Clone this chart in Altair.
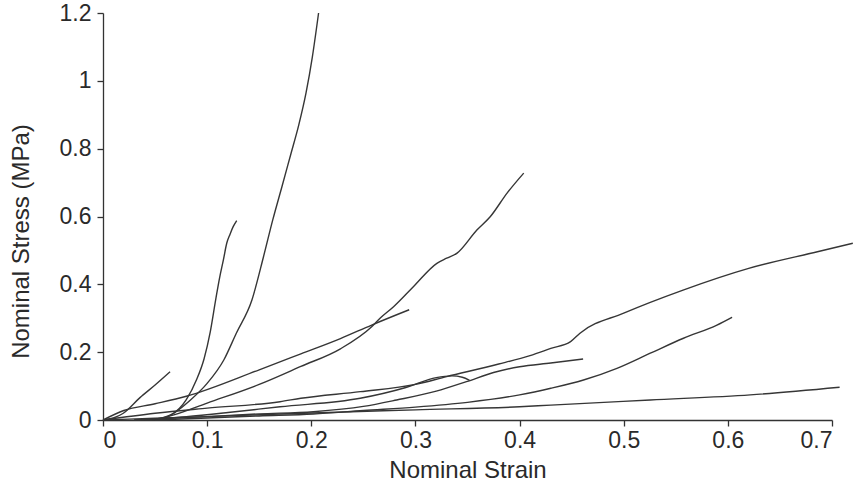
import altair as alt
import pandas as pd

# Curve data (nominal strain, nominal stress MPa)
A_x = [0.055, 0.068, 0.084, 0.100, 0.116, 0.128, 0.143, 0.154, 0.163, 0.172, 0.180, 0.188, 0.195, 0.201, 0.207]
A_y = [0.0, 0.02, 0.059, 0.108, 0.177, 0.256, 0.354, 0.48, 0.59, 0.69, 0.78, 0.87, 0.965, 1.07, 1.20]

B_x = [0.045, 0.065, 0.080, 0.090, 0.097, 0.103, 0.1085, 0.112, 0.1156, 0.1188, 0.122, 0.125, 0.1284]
B_y = [0.0, 0.015, 0.060, 0.120, 0.180, 0.260, 0.360, 0.420, 0.472, 0.521, 0.548, 0.570, 0.588]

C_x = [0.0, 0.010, 0.0195, 0.0355, 0.050, 0.0644]
C_y = [0.0, 0.006, 0.020, 0.066, 0.103, 0.142]

D_x = [0.0, 0.020, 0.050, 0.080, 0.150, 0.190, 0.228, 0.258, 0.294]
D_y = [0.0, 0.028, 0.048, 0.070, 0.148, 0.195, 0.240, 0.280, 0.325]

E_x = [0.050, 0.068, 0.100, 0.150, 0.190, 0.228, 0.258, 0.266, 0.279, 0.298, 0.3206, 0.330, 0.340, 0.359, 0.372, 0.388, 0.404]
E_y = [0.0, 0.015, 0.050, 0.105, 0.158, 0.210, 0.275, 0.300, 0.334, 0.393, 0.462, 0.477, 0.492, 0.560, 0.600, 0.669, 0.728]

F_x = [0.030, 0.100, 0.150, 0.202, 0.250, 0.282, 0.320, 0.349, 0.375, 0.400, 0.430, 0.461]
F_y = [0.0, 0.010, 0.018, 0.0245, 0.040, 0.059, 0.085, 0.113, 0.140, 0.157, 0.168, 0.180]

G_x = [0.0, 0.050, 0.100, 0.170, 0.190, 0.247, 0.300, 0.330, 0.380, 0.410, 0.430, 0.449, 0.458, 0.500, 0.557, 0.620, 0.686, 0.720]
G_y = [0.0, 0.020, 0.035, 0.054, 0.064, 0.0835, 0.105, 0.128, 0.165, 0.190, 0.211, 0.231, 0.256, 0.315, 0.383, 0.447, 0.496, 0.521]

H_x = [0.050, 0.100, 0.150, 0.202, 0.250, 0.300, 0.350, 0.400, 0.430, 0.4614, 0.4935, 0.5255, 0.5574, 0.5895, 0.604]
H_y = [0.0, 0.006, 0.012, 0.0177, 0.028, 0.038, 0.052, 0.074, 0.0935, 0.118, 0.1525, 0.197, 0.241, 0.280, 0.303]

I_x = [0.0, 0.050, 0.100, 0.170, 0.300, 0.400, 0.430, 0.5255, 0.6215, 0.7073]
I_y = [0.0, 0.005, 0.010, 0.0177, 0.030, 0.039, 0.044, 0.059, 0.074, 0.0965]

J_x = [0.030, 0.080, 0.120, 0.170, 0.247, 0.290, 0.320, 0.335, 0.345, 0.352]
J_y = [0.0, 0.010, 0.022, 0.039, 0.064, 0.095, 0.125, 0.130, 0.126, 0.117]

curves = {
    "A": (A_x, A_y), "B": (B_x, B_y), "C": (C_x, C_y), "D": (D_x, D_y),
    "E": (E_x, E_y), "F": (F_x, F_y), "G": (G_x, G_y), "H": (H_x, H_y),
    "I": (I_x, I_y), "J": (J_x, J_y),
}

x_ticks = [0, 0.1, 0.2, 0.3, 0.4, 0.5, 0.6, 0.7]
y_ticks = [0, 0.2, 0.4, 0.6, 0.8, 1.0, 1.2]

rows = []
for name, (xs, ys) in curves.items():
    for i, (xv, yv) in enumerate(zip(xs, ys)):
        rows.append({"curve": name, "idx": i, "strain": xv, "stress": yv})
df = pd.DataFrame(rows)

FONT = "Liberation Sans"
TXT = "#2a2a2a"

chart = alt.Chart(df).mark_line(color="#363636", strokeWidth=1.4, clip=False,
                                interpolate="monotone").encode(
    x=alt.X("strain:Q",
            scale=alt.Scale(domain=[0, 0.7], nice=False, zero=False),
            axis=alt.Axis(values=x_ticks, format="~g", title="Nominal Strain",
                          grid=False, tickSize=6, labelPadding=3,
                          titleY=50, titleBaseline="middle")),
    y=alt.Y("stress:Q",
            scale=alt.Scale(domain=[0, 1.2], nice=False),
            axis=alt.Axis(values=y_ticks, format="~g", title="Nominal Stress (MPa)",
                          grid=False, tickSize=6, labelPadding=6,
                          titleX=-82, titleY=228, titleBaseline="middle")),
    detail="curve:N",
    order="idx:Q",
).properties(
    width=729,
    height=407,
    padding={"left": 103, "top": 13, "right": 21, "bottom": 84},
    autosize=alt.AutoSizeParams(type="none"),
).configure(
    background="white"
).configure_view(
    stroke=None
).configure_axis(
    domainColor="#333333", tickColor="#333333", domainWidth=1.3, tickWidth=1.3,
    labelFont=FONT, titleFont=FONT, labelFontSize=23, titleFontSize=24,
    labelColor=TXT, titleColor=TXT, titleFontWeight="normal",
)

chart.save("out.html", embed_options={"renderer": "svg", "actions": False})
